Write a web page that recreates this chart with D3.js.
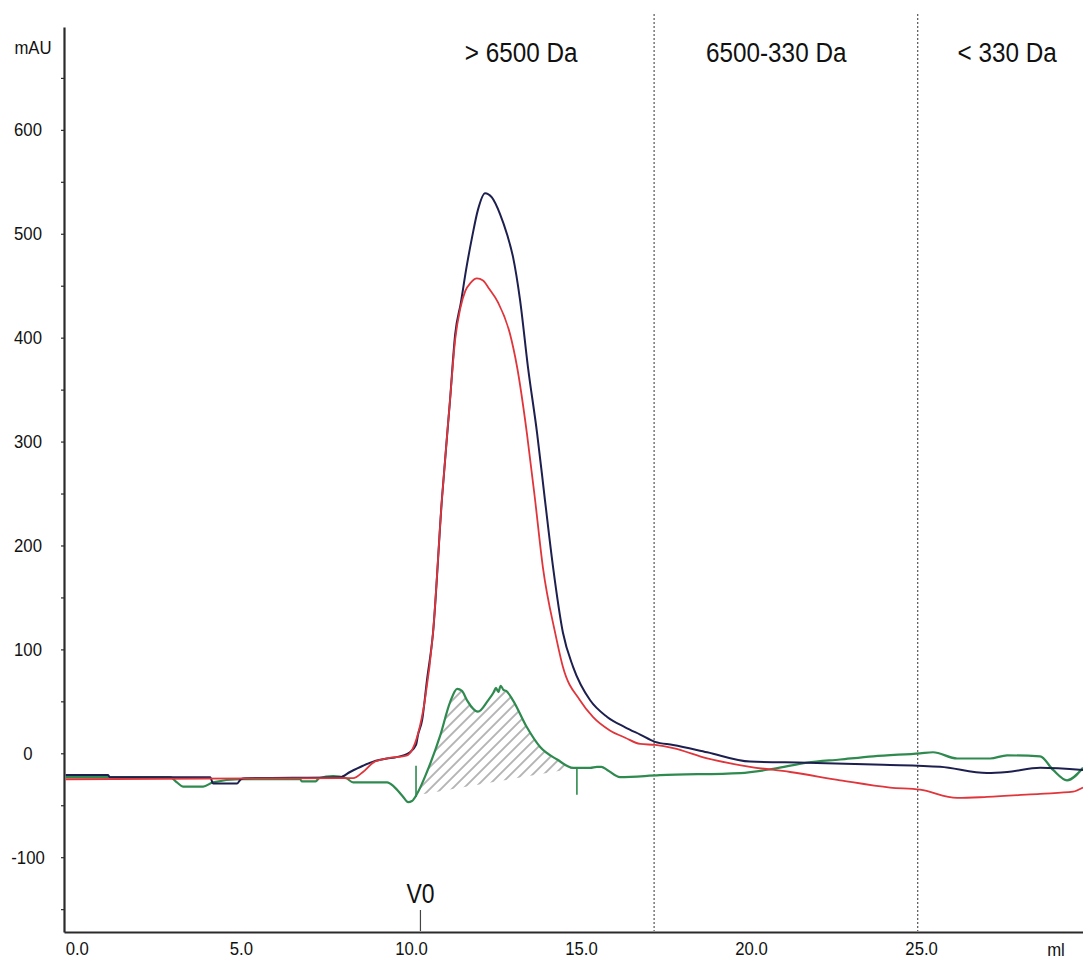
<!DOCTYPE html>
<html>
<head>
<meta charset="utf-8">
<script src="https://cdn.jsdelivr.net/npm/d3@7"></script>
<style>
body { margin: 0; background: #fff; }
text { font-family: "Liberation Sans", Arial, sans-serif; fill: #111; }
</style>
</head>
<body>
<script>
// chromatogram traces: [volume (ml), absorbance (mAU)]
var navyTrace = [[-0.15,-21],[1.09,-21],[1.15,-23],[4.1,-23],[4.18,-29],[4.89,-29],[5.0,-25],[5.12,-24],[7.92,-23],
  [8.21,-18],[8.59,-12],[8.89,-8],[9.3,-5],[9.53,-4],[9.97,1],[10.15,8],[10.21,18],[10.33,32],[10.47,70],[10.65,116],
  [10.91,244],[11.15,340],[11.30,403],[11.47,434],[11.62,465],[11.80,497],[11.97,523],[12.18,539],[12.38,535],
  [12.62,519],[12.83,499],[13.00,478],[13.21,436],[13.44,372],[13.71,308],[13.94,244],[14.18,179],[14.47,116],
  [14.77,83],[15.27,51],[15.77,35],[16.30,25],[16.74,18],[17.18,11],[17.71,8],[18.71,1],[19.97,-8],[21.65,-9],
  [23.88,-11],[25.56,-13],[26.94,-19],[27.53,-18],[28.50,-14],[29.76,-16]];

var redTrace = [[-0.15,-25],[7.92,-24],[8.30,-24],[8.59,-18],[8.89,-9],[9.30,-5],[9.89,-2],[10.03,3],[10.21,19],
  [10.41,51],[10.65,116],[10.91,244],[11.15,340],[11.30,398],[11.45,428],[11.60,445],[11.76,453],[11.94,457],[12.12,455],
  [12.30,447],[12.56,434],[12.91,404],[13.12,372],[13.41,308],[13.65,244],[13.88,179],[14.24,116],[14.47,83],
  [14.97,51],[15.35,35],[15.85,22],[16.30,15],[16.74,9],[17.18,8],[17.71,5],[18.71,-5],[19.97,-13],[21.15,-18],
  [22.62,-26],[24.09,-33],[24.97,-35],[26.06,-43],[26.94,-42],[28.50,-39],[29.47,-37],[29.76,-33]];

var greenTrace = [[-0.15,-23],[2.92,-23],[3.12,-28],[3.30,-32],[3.89,-32],[4.18,-28],[4.97,-25],[6.74,-25],
  [6.80,-27],[7.20,-27],[7.30,-24],[7.71,-22],[8.10,-24],[8.30,-28],[9.30,-28],[9.50,-32],[9.75,-41],[9.92,-47],
  [10.03,-46],[10.18,-39],[10.47,-18],[10.86,17],[11.15,49],[11.36,62],[11.50,60],[11.65,51],[11.97,40],
  [12.27,51],[12.42,58],[12.50,63],[12.57,59],[12.64,65],[12.72,61],[12.80,60],[13.00,51],[13.41,25],[13.80,6],
  [14.30,-6],[14.77,-14],[15.27,-14],[15.47,-13],[15.60,-13],[15.77,-16],[16.15,-23],[17.32,-21],[19.68,-19],
  [20.65,-15],[21.65,-9],[22.62,-6],[23.59,-3],[24.97,0],[25.35,1],[26.06,-5],[27.03,-5],[27.53,-2],[28.50,-3],
  [28.88,-16],[29.29,-26],[29.76,-14]];

// integration marks on the green trace (ml, top mAU, bottom mAU)
var peakMarks = [[10.15,-12,-42],[14.88,-14,-40]];

var yTickValues = [-150,-100,-50,0,50,100,150,200,250,300,350,400,450,500,550,600,650];
var yLabelValues = [-100,0,100,200,300,400,500,600];
var xTickValues = [0,5,10,15,20,25];
var xTickLabels = ["0.0","5.0","10.0","15.0","20.0","25.0"];

var cutoffVolumes = [17.15, 24.9];
var rangeNames = ["> 6500 Da", "6500-330 Da", "< 330 Da"];
var rangeCentres = [13.24, 20.74, 27.53];
var v0Volume = 10.28;

var width = 1083, height = 959;

var svg = d3.select("body").append("svg")
    .attr("width", width)
    .attr("height", height);

var x = d3.scaleLinear().domain([-0.2, 29.76]).range([64, 1083]);
var y = d3.scaleLinear().domain([-172, 699]).range([932, 27]);

var squeeze = 0.88;

// hatch pattern for the integrated area
svg.append("defs").append("pattern")
    .attr("id", "hatch")
    .attr("patternUnits", "userSpaceOnUse")
    .attr("width", 7.8)
    .attr("height", 7.8)
    .attr("patternTransform", "rotate(45)")
  .append("line")
    .attr("x1", 3.9).attr("y1", 0)
    .attr("x2", 3.9).attr("y2", 7.8)
    .attr("stroke", "#8f8f8f")
    .attr("stroke-width", 1.3);

// y axis
var yAxis = svg.append("g")
    .attr("transform", "translate(64,0)")
    .call(d3.axisLeft(y)
        .tickValues(yTickValues)
        .tickSize(3)
        .tickSizeOuter(0)
        .tickFormat(function(d) { return yLabelValues.indexOf(d) >= 0 ? d : ""; }));
yAxis.select(".domain").attr("stroke", "#2b2b2b").attr("stroke-width", 2.2);
yAxis.selectAll(".tick line").attr("stroke", "#2b2b2b").attr("stroke-width", 1.2);
yAxis.selectAll(".tick text")
    .attr("x", -36 / squeeze)
    .attr("text-anchor", "middle")
    .attr("transform", "scale(" + squeeze + ",1)")
    .style("font-size", "19px");

svg.append("text")
    .attr("transform", "translate(33,47) scale(" + squeeze + ",1)")
    .attr("dy", "0.35em")
    .attr("text-anchor", "middle")
    .style("font-size", "19px")
    .text("mAU");

// x axis
var xAxis = svg.append("g")
    .attr("transform", "translate(0,932)")
    .call(d3.axisBottom(x)
        .tickValues(xTickValues)
        .tickSize(0)
        .tickSizeOuter(0)
        .tickPadding(10)
        .tickFormat(function(d, i) { return xTickLabels[i]; }));
xAxis.select(".domain").attr("stroke", "#2b2b2b").attr("stroke-width", 2.2);
xAxis.selectAll(".tick text")
    .attr("transform", "scale(" + squeeze + ",1)")
    .attr("x", function(d) { return d === 0 ? 6 / squeeze : 0; })
    .style("font-size", "19px");

svg.append("text")
    .attr("transform", "translate(1056,942) scale(" + squeeze + ",1)")
    .attr("dy", "0.71em")
    .attr("text-anchor", "middle")
    .style("font-size", "19px")
    .text("ml");

// fraction cut-off lines and labels
svg.selectAll(".cutoff")
    .data(cutoffVolumes)
  .enter().append("line")
    .attr("class", "cutoff")
    .attr("x1", function(d) { return x(d); })
    .attr("x2", function(d) { return x(d); })
    .attr("y1", 14)
    .attr("y2", 931)
    .attr("stroke", "#555")
    .attr("stroke-width", 1.2)
    .attr("stroke-dasharray", "2,2");

svg.selectAll(".range")
    .data(rangeNames)
  .enter().append("text")
    .attr("class", "range")
    .attr("transform", function(d, i) { return "translate(" + x(rangeCentres[i]) + ",62) scale(0.9,1)"; })
    .attr("text-anchor", "middle")
    .style("font-size", "27px")
    .text(function(d) { return d; });

// V0 marker
svg.append("line")
    .attr("x1", x(v0Volume)).attr("x2", x(v0Volume))
    .attr("y1", 910).attr("y2", 931)
    .attr("stroke", "#444")
    .attr("stroke-width", 1.2);
svg.append("text")
    .attr("transform", "translate(" + x(v0Volume) + ",903) scale(0.85,1)")
    .attr("text-anchor", "middle")
    .style("font-size", "27px")
    .text("V0");

// hatched integrated area under the green trace
function valueAt(trace, v) {
  var i = d3.bisector(function(d) { return d[0]; }).right(trace, v);
  var a = trace[i - 1], b = trace[i];
  return a[1] + (b[1] - a[1]) * (v - a[0]) / (b[0] - a[0]);
}
var s = peakMarks[0][0], e = peakMarks[1][0];
var gs = valueAt(greenTrace, s), ge = valueAt(greenTrace, e);
function baseAt(v) { return gs + (ge - gs) * (v - s) / (e - s); }
var areaPts = [[s, gs]].concat(greenTrace.filter(function(d) { return d[0] > s && d[0] < e; }), [[e, ge]]);

svg.append("path")
    .datum(areaPts)
    .attr("fill", "url(#hatch)")
    .attr("d", d3.area()
        .curve(d3.curveMonotoneX)
        .x(function(d) { return x(d[0]); })
        .y0(function(d) { return y(baseAt(d[0])); })
        .y1(function(d) { return y(d[1]); }));

// traces
var line = d3.line()
    .curve(d3.curveMonotoneX)
    .x(function(d) { return x(d[0]); })
    .y(function(d) { return y(d[1]); });

svg.append("path")
    .datum(greenTrace)
    .attr("fill", "none")
    .attr("stroke", "#2e8a4e")
    .attr("stroke-width", 2.2)
    .attr("stroke-linejoin", "round")
    .attr("d", line);

svg.selectAll(".mark")
    .data(peakMarks)
  .enter().append("line")
    .attr("class", "mark")
    .attr("x1", function(d) { return x(d[0]); })
    .attr("x2", function(d) { return x(d[0]); })
    .attr("y1", function(d) { return y(d[1]); })
    .attr("y2", function(d) { return y(d[2]); })
    .attr("stroke", "#2e8a4e")
    .attr("stroke-width", 1.6);

svg.append("path")
    .datum(navyTrace)
    .attr("fill", "none")
    .attr("stroke", "#1d1f4f")
    .attr("stroke-width", 2)
    .attr("stroke-linejoin", "round")
    .attr("d", line);

svg.append("path")
    .datum(redTrace)
    .attr("fill", "none")
    .attr("stroke", "#e0353b")
    .attr("stroke-width", 1.8)
    .attr("stroke-linejoin", "round")
    .attr("d", line);
</script>
</body>
</html>
